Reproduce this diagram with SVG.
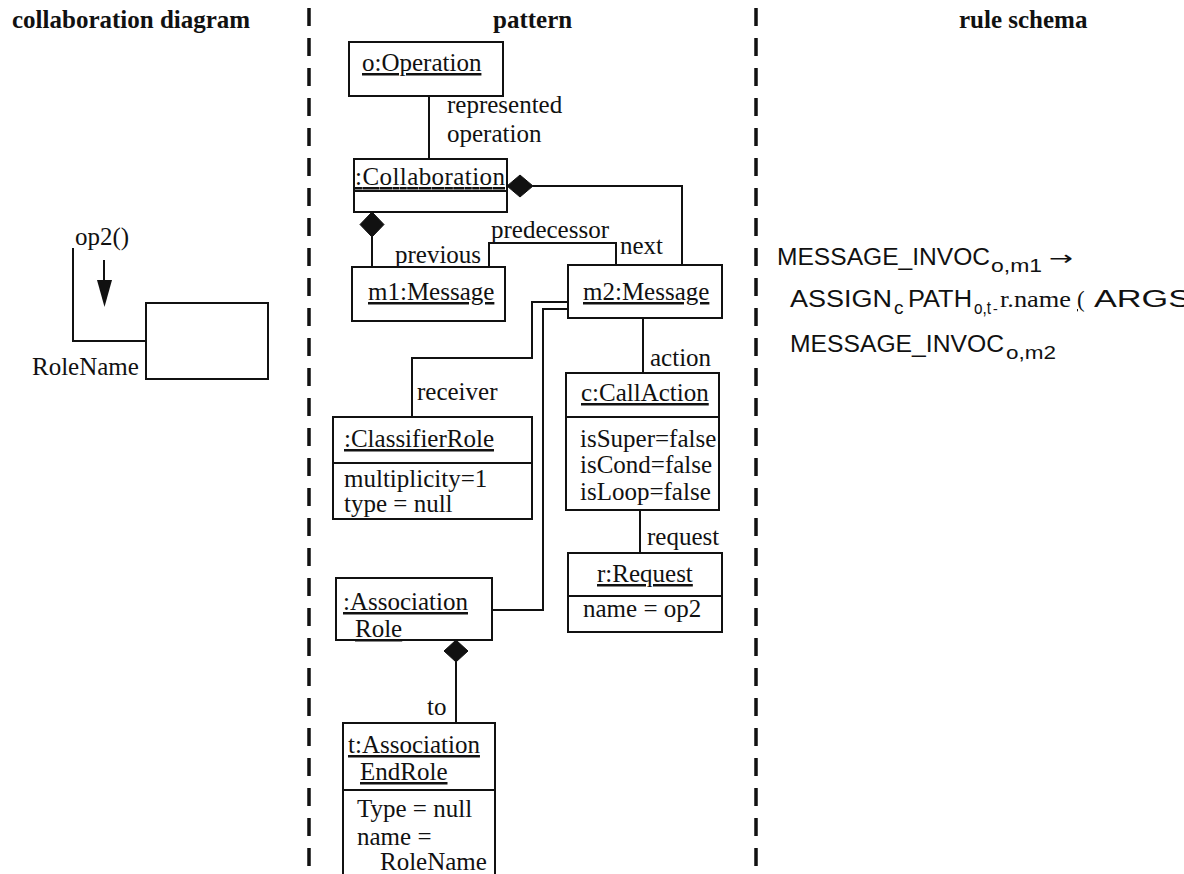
<svg xmlns="http://www.w3.org/2000/svg" width="1184" height="874" viewBox="0 0 1184 874">
  <style>
    .t { font-family: "Liberation Serif", "Times New Roman", serif; font-size: 25px; fill: #111; }
    .h { font-family: "Liberation Serif", "Times New Roman", serif; font-size: 25px; font-weight: bold; fill: #111; }
    .u { text-decoration: underline; }
    .s { font-family: "Liberation Sans", Arial, sans-serif; font-size: 23px; fill: #111; }
    .sub { font-family: "Liberation Sans", Arial, sans-serif; font-size: 19px; fill: #111; }
    .box { fill: #fff; stroke: #111; stroke-width: 2; }
    .ln { fill: none; stroke: #111; stroke-width: 2; }
    .dash { fill: none; stroke: #111; stroke-width: 3.5; stroke-dasharray: 18 12; }
    .dia { fill: #111; stroke: #111; stroke-width: 1; }
  </style>

  <!-- column headers -->
  <g id="headers">
    <text class="h" x="12" y="28">collaboration diagram</text>
    <text class="h" x="493" y="28">pattern</text>
    <text class="h" x="959" y="28">rule schema</text>
  </g>

  <!-- column separators -->
  <g id="separators">
    <line class="dash" x1="309" y1="8" x2="309" y2="874"/>
    <line class="dash" x1="756" y1="8" x2="756" y2="874"/>
  </g>

  <!-- collaboration diagram -->
  <g id="collab-role">
    <rect class="box" x="146" y="303" width="122" height="76"/>
    <text class="t" x="32" y="375">RoleName</text>
  </g>
  <g id="collab-link">
    <path class="ln" d="M73,248 V341 H146"/>
    <text class="t" x="75" y="245">op2()</text>
    <line class="ln" x1="104" y1="260" x2="104" y2="284"/>
    <polygon points="97,280 112,280 104.5,307" fill="#111"/>
  </g>

  <!-- pattern connectors -->
  <g id="connectors">
    <path class="ln" d="M429,96 V159"/>
    <text class="t" x="447" y="113">represented</text>
    <text class="t" x="447" y="142">operation</text>

    <path class="ln" d="M533,186 H682 V265"/>
    <polygon class="dia" points="507,186 520,175 533,186 520,197"/>

    <path class="ln" d="M372,237 V267"/>
    <polygon class="dia" points="372,212 384,224.5 372,237 360,224.5"/>

    <path class="ln" d="M489,267 V243 H616 V265"/>
    <text class="t" x="491" y="238">predecessor</text>
    <text class="t" x="395" y="263">previous</text>
    <text class="t" x="620" y="254">next</text>

    <path class="ln" d="M568,302 H532 V358 H412 V417"/>
    <text class="t" x="417" y="400">receiver</text>

    <path class="ln" d="M568,309 H543 V610 H492"/>

    <path class="ln" d="M643,318 V373"/>
    <text class="t" x="650" y="366">action</text>

    <path class="ln" d="M640,510 V553"/>
    <text class="t" x="647" y="545">request</text>

    <path class="ln" d="M456,662 V723"/>
    <polygon class="dia" points="456,640 468,651 456,662 444,651"/>
    <text class="t" x="427" y="715">to</text>
  </g>

  <!-- pattern nodes -->
  <g id="operation">
    <rect class="box" x="349" y="42" width="154" height="54"/>
    <text class="t u" x="362" y="71">o:Operation</text>
  </g>
  <g id="collaboration">
    <rect class="box" x="354" y="159" width="153" height="53"/>
    <line class="ln" x1="354" y1="191" x2="507" y2="191"/>
    <text class="t u" x="355" y="185" textLength="150">:Collaboration</text>
  </g>
  <g id="m1-message">
    <rect class="box" x="352" y="267" width="153" height="54"/>
    <text class="t u" x="368" y="300">m1:Message</text>
  </g>
  <g id="m2-message">
    <rect class="box" x="568" y="265" width="154" height="53"/>
    <text class="t u" x="583" y="300">m2:Message</text>
  </g>
  <g id="classifier-role">
    <rect class="box" x="333" y="417" width="199" height="102"/>
    <line class="ln" x1="333" y1="463" x2="532" y2="463"/>
    <text class="t u" x="344" y="447">:ClassifierRole</text>
    <text class="t" x="344" y="487">multiplicity=1</text>
    <text class="t" x="344" y="512">type = null</text>
  </g>
  <g id="call-action">
    <rect class="box" x="566" y="373" width="153" height="137"/>
    <line class="ln" x1="566" y1="417" x2="719" y2="417"/>
    <text class="t u" x="581" y="401">c:CallAction</text>
    <text class="t" x="580" y="447">isSuper=false</text>
    <text class="t" x="580" y="473">isCond=false</text>
    <text class="t" x="580" y="500">isLoop=false</text>
  </g>
  <g id="request">
    <rect class="box" x="568" y="553" width="154" height="79"/>
    <line class="ln" x1="568" y1="596" x2="722" y2="596"/>
    <text class="t u" x="597" y="582">r:Request</text>
    <text class="t" x="583" y="617">name = op2</text>
  </g>
  <g id="association-role">
    <rect class="box" x="336" y="578" width="156" height="62"/>
    <text class="t u" x="343" y="610">:Association</text>
    <text class="t u" x="355" y="637">Role</text>
  </g>
  <g id="association-end-role">
    <rect class="box" x="343" y="723" width="152" height="180"/>
    <line class="ln" x1="343" y1="790" x2="495" y2="790"/>
    <text class="t u" x="348" y="753">t:Association</text>
    <text class="t u" x="360" y="780">EndRole</text>
    <text class="t" x="357" y="817">Type = null</text>
    <text class="t" x="357" y="845">name =</text>
    <text class="t" x="380" y="870">RoleName</text>
  </g>

  <!-- rule schema -->
  <g id="rule-schema">
    <text class="s" x="777" y="265" textLength="213" lengthAdjust="spacingAndGlyphs">MESSAGE_INVOC</text>
    <text class="sub" x="991" y="272" textLength="51" lengthAdjust="spacingAndGlyphs">o,m1</text>
    <text x="1049" y="265" textLength="24" lengthAdjust="spacingAndGlyphs" style="font-family:'DejaVu Sans',sans-serif;font-size:20px;fill:#111">→</text>

    <text class="s" x="790" y="307" textLength="102" lengthAdjust="spacingAndGlyphs">ASSIGN</text>
    <text class="sub" x="894" y="314">c</text>
    <text class="s" x="908" y="307" textLength="64" lengthAdjust="spacingAndGlyphs">PATH</text>
    <text class="sub" x="974" y="314" textLength="17" lengthAdjust="spacingAndGlyphs">o,t</text>
    <text class="t" x="993" y="313" style="font-size:14px">-</text>
    <text class="t" x="1000" y="307" style="font-size:23px" textLength="71" lengthAdjust="spacingAndGlyphs">r.name</text>
    <text class="t u" x="1077" y="307" style="font-size:23px">(</text>
    <text class="s" x="1094" y="307" textLength="97" lengthAdjust="spacingAndGlyphs">ARGS</text>

    <text class="s" x="790" y="352" textLength="214" lengthAdjust="spacingAndGlyphs">MESSAGE_INVOC</text>
    <text class="sub" x="1006" y="359" textLength="50" lengthAdjust="spacingAndGlyphs">o,m2</text>
  </g>
</svg>
